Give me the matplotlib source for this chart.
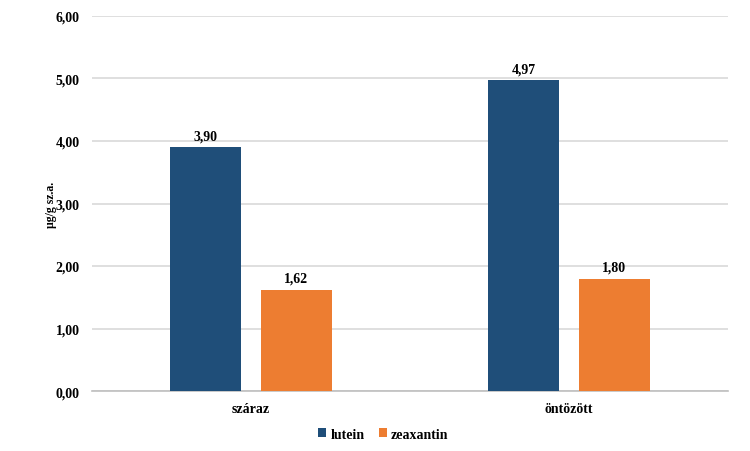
import matplotlib
matplotlib.use("Agg")
import matplotlib.pyplot as plt
import numpy as np

categories = ["száraz", "öntözött"]
lutein = [3.90, 4.97]
zeaxantin = [1.62, 1.80]
series_names = ["lutein", "zeaxantin"]
colors = ["#1F4E79", "#ED7D31"]

plt.rcParams['font.family'] = ['Liberation Serif', 'DejaVu Serif']
plt.rcParams['font.weight'] = 'bold'

fig = plt.figure(figsize=(7.5, 4.52), dpi=100)
ax = fig.add_axes([0.1227, 0.1327, 0.848, 0.8297])

x = np.arange(len(categories))
w = 0.223
off = 0.142
b1 = ax.bar(x - off, lutein, w, color=colors[0], label=series_names[0], zorder=3)
b2 = ax.bar(x + off, zeaxantin, w, color=colors[1], label=series_names[1], zorder=3)

for bars, vals in ((b1, lutein), (b2, zeaxantin)):
    for r, v in zip(bars, vals):
        ax.text(r.get_x() + r.get_width() / 2, v + 0.08, f"{v:.2f}".replace(".", ","),
                ha="center", va="bottom", fontsize=10, fontweight="bold")

ax.set_xlim(-0.5, 1.5)
ax.set_ylim(0, 6)
ax.set_yticks(np.arange(0, 6.01, 1))
ax.set_yticklabels([f"{t:.2f}".replace(".", ",") for t in np.arange(0, 6.01, 1)])
ax.set_xticks(x)
ax.set_xticklabels(categories)
ax.tick_params(axis="both", length=0, labelsize=10)
ax.tick_params(axis="y", pad=9)
ax.tick_params(axis="x", pad=8)
for lab in ax.get_xticklabels() + ax.get_yticklabels():
    lab.set_fontweight("bold")

ax.grid(axis="y", color="#D9D9D9", linewidth=1.2, zorder=0)
for s in ["top", "right", "left"]:
    ax.spines[s].set_visible(False)
ax.spines["bottom"].set_color("#BFBFBF")
ax.spines["bottom"].set_linewidth(1.2)

ax.set_ylabel("µg/g sz.a.", fontsize=8.5, fontweight="bold")
ax.yaxis.set_label_coords(-0.064, 0.5)
ax.yaxis.label.set_va("center")

leg = ax.legend(loc="center", bbox_to_anchor=(0.458, -0.115), ncol=2, frameon=False,
                fontsize=10, handlelength=0.6, handleheight=0.6, handletextpad=0.3,
                columnspacing=1.0)
for t in leg.get_texts():
    t.set_fontweight("bold")

fig.savefig("out.png", dpi=100)
